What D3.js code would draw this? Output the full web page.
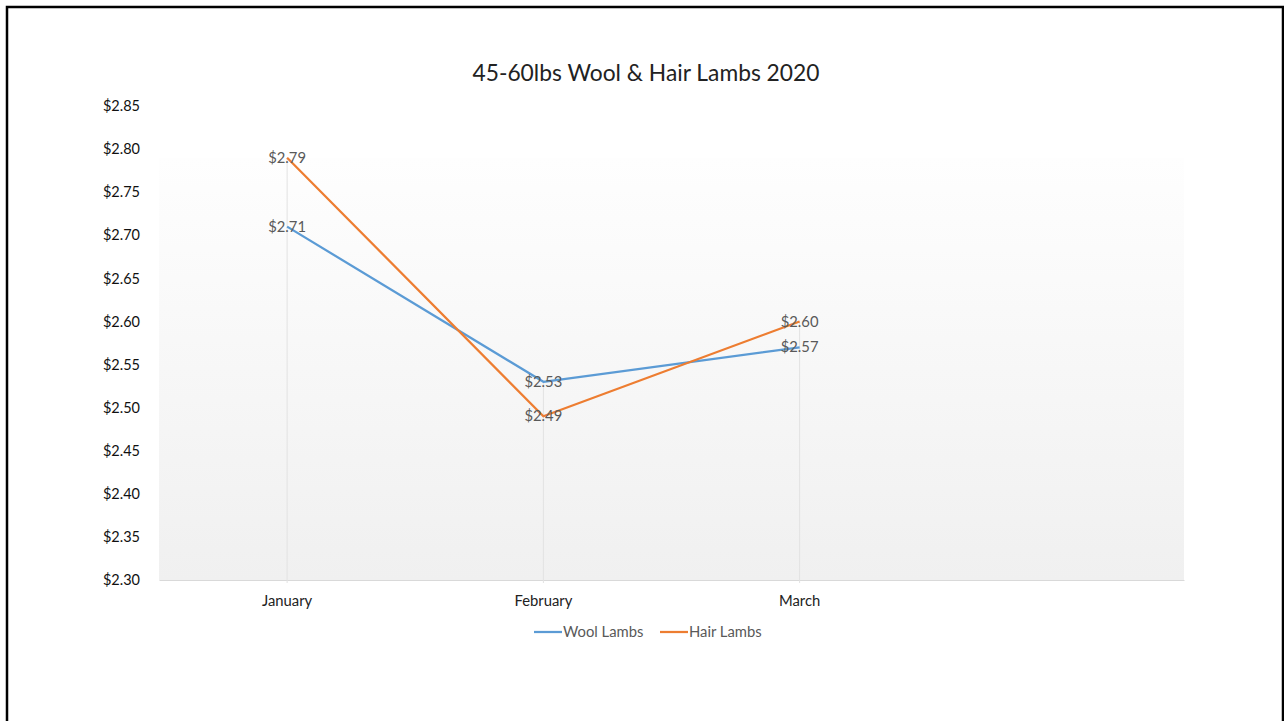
<!DOCTYPE html>
<html><head><meta charset="utf-8">
<script src="https://cdn.jsdelivr.net/npm/d3@7"></script>
<style>html,body{margin:0;padding:0;background:#fff;}svg{display:block;}</style>
</head><body>
<script>
const categories = ["January", "February", "March", ""];
const woolLambs = [2.71, 2.53, 2.57];
const hairLambs = [2.79, 2.49, 2.60];
const yTicks = [2.30, 2.35, 2.40, 2.45, 2.50, 2.55, 2.60, 2.65, 2.70, 2.75, 2.80, 2.85];
const seriesNames = ["Wool Lambs", "Hair Lambs"];
const colors = ["#5b9bd5", "#ed7d31"];
const title = "45-60lbs Wool & Hair Lambs 2020";

const W = 1284, H = 721;
const font = "Lato, 'Open Sans', sans-serif";
const svg = d3.select("body").append("svg").attr("width", W).attr("height", H);

// outer border
svg.append("path").attr("d", `M7,${H+5} V7 H1283 V${H+5}`).attr("fill", "none").attr("stroke", "#000").attr("stroke-width", 2.5);

const x = d3.scaleBand().domain(categories).range([159, 1184]);
const y = d3.scaleLinear().domain([2.30, 2.85]).range([580, 106]);
const cx = c => x(c) + x.bandwidth() / 2;

// plot background gradient
const defs = svg.append("defs");
const g = defs.append("linearGradient").attr("id", "bg").attr("x1", 0).attr("y1", 0).attr("x2", 0).attr("y2", 1);
g.append("stop").attr("offset", "0%").attr("stop-color", "#fefefe");
g.append("stop").attr("offset", "100%").attr("stop-color", "#f0f0f0");
svg.append("rect").attr("x", 159).attr("y", 158).attr("width", 1184 - 159).attr("height", 580 - 158).attr("fill", "url(#bg)");

// title
svg.append("text").attr("x", 646).attr("y", 81).attr("text-anchor", "middle")
  .attr("font-family", font).attr("font-size", 22.8).attr("fill", "#222").text(title);

// y axis labels
const yAxis = d3.axisLeft(y).tickValues(yTicks).tickFormat(d => "$" + d.toFixed(2)).tickSize(0).tickPadding(0);
const ya = svg.append("g").attr("transform", "translate(140,0)").call(yAxis);
ya.select(".domain").remove();
ya.selectAll("text").attr("font-family", font).attr("font-size", 14.5).attr("fill", "#111");

// x axis
const xAxis = d3.axisBottom(x).tickSize(0).tickPadding(0);
const xa = svg.append("g").attr("transform", "translate(0,580)").call(xAxis);
xa.select(".domain").attr("stroke", "#d9d9d9").attr("stroke-width", 1.2);
xa.selectAll("text").attr("font-family", font).attr("font-size", 14.8).attr("fill", "#222")
  .attr("y", 21).attr("dy", "0.35em");

// drop lines
const used = categories.slice(0, 3);
svg.selectAll(".drop").data(used).enter().append("line")
  .attr("x1", d => cx(d)).attr("x2", d => cx(d))
  .attr("y1", (d, i) => y(Math.max(woolLambs[i], hairLambs[i]))).attr("y2", 583)
  .attr("stroke", "#e2e2e2").attr("stroke-width", 1);

// lines
const series = [woolLambs, hairLambs];
const line = d3.line().x((d, i) => cx(used[i])).y(d => y(d));
series.forEach((s, k) => {
  svg.append("path").datum(s).attr("d", line).attr("fill", "none")
    .attr("stroke", colors[k]).attr("stroke-width", 2.25).attr("stroke-linejoin", "round");
});
// labels
series.forEach((s, k) => {
  svg.selectAll(".lbl" + k).data(s).enter().append("text")
    .attr("x", (d, i) => cx(used[i])).attr("y", d => y(d)).attr("dy", "0.35em")
    .attr("text-anchor", "middle").attr("font-family", font).attr("font-size", 14.8)
    .attr("fill", "#595959").text(d => "$" + d.toFixed(2));
});

// legend
const legX = [534, 660];
seriesNames.forEach((n, k) => {
  svg.append("line").attr("x1", legX[k]).attr("x2", legX[k] + 28).attr("y1", 632).attr("y2", 632)
    .attr("stroke", colors[k]).attr("stroke-width", 2.25);
  svg.append("text").attr("x", legX[k] + 29).attr("y", 632).attr("dy", "0.35em")
    .attr("font-family", font).attr("font-size", 14.8).attr("fill", "#595959").text(n);
});
</script>
</body></html>
